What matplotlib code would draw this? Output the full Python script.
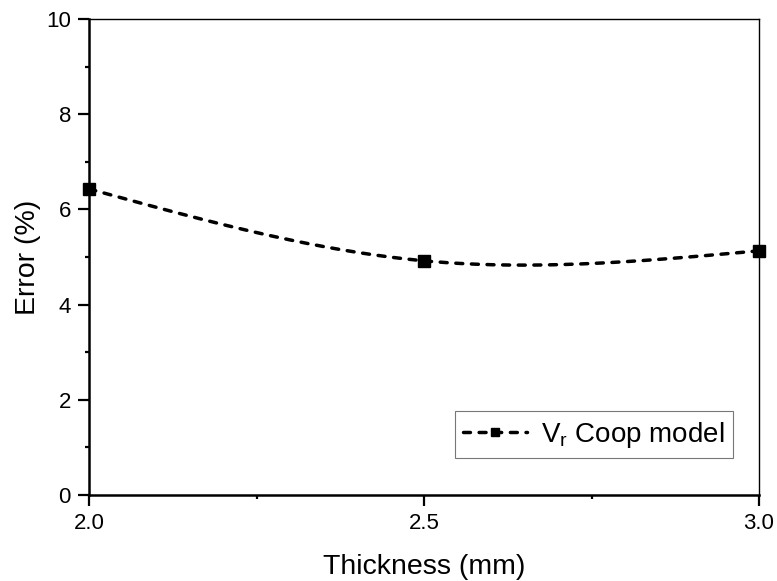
import numpy as np
import matplotlib
matplotlib.use("Agg")
import matplotlib.pyplot as plt
from matplotlib.ticker import MultipleLocator

plt.rcParams["font.family"] = ["Liberation Sans", "DejaVu Sans"]

# --------------------------------------------------
# data
# --------------------------------------------------

thickness = [2.0, 2.5, 3.0]
error = [6.43, 4.92, 5.13]
label = "V$_\\mathregular{r}$ Coop model"


# natural cubic spline through the points (smooth connecting line)
def natural_spline(x, y, n=200):
    x = np.asarray(x, float)
    y = np.asarray(y, float)
    k = len(x)
    h = np.diff(x)
    A = np.zeros((k, k))
    r = np.zeros(k)
    A[0, 0] = A[-1, -1] = 1.0
    for i in range(1, k - 1):
        A[i, i - 1] = h[i - 1]
        A[i, i] = 2 * (h[i - 1] + h[i])
        A[i, i + 1] = h[i]
        r[i] = 6 * ((y[i + 1] - y[i]) / h[i] - (y[i] - y[i - 1]) / h[i - 1])
    M = np.linalg.solve(A, r)
    xs = np.linspace(x[0], x[-1], n)
    idx = np.clip(np.searchsorted(x, xs) - 1, 0, k - 2)
    x0, x1 = x[idx], x[idx + 1]
    hh = x1 - x0
    ys = (M[idx] * (x1 - xs) ** 3 / (6 * hh) + M[idx + 1] * (xs - x0) ** 3 / (6 * hh)
          + (y[idx] / hh - M[idx] * hh / 6) * (x1 - xs)
          + (y[idx + 1] / hh - M[idx + 1] * hh / 6) * (xs - x0))
    return xs, ys


xs, ys = natural_spline(thickness, error)

# --------------------------------------------------
# plot
# --------------------------------------------------

fig = plt.figure(figsize=(7.77, 5.81), dpi=100)
ax = fig.add_axes([89 / 777, 1 - 495 / 581, 670 / 777, 476 / 581])

line_kw = dict(color="black", lw=2.5, dashes=(2, 2.5), dash_capstyle="round")
ax.plot(xs, ys, **line_kw)
ax.plot(thickness, error, "s", color="black", ms=8.5, clip_on=False)
# proxy artist for the legend (line + marker)
ax.plot([], [], marker="s", ms=8.5, label=label, **line_kw)

ax.set_xlim(2.0, 3.0)
ax.set_ylim(0, 10)
ax.xaxis.set_major_locator(MultipleLocator(0.5))
ax.xaxis.set_minor_locator(MultipleLocator(0.25))
ax.yaxis.set_major_locator(MultipleLocator(2))
ax.yaxis.set_minor_locator(MultipleLocator(1))
ax.xaxis.set_major_formatter(matplotlib.ticker.FormatStrFormatter("%.1f"))

ax.tick_params(which="both", direction="out", width=1.6, labelsize=16, top=False, right=False)
ax.tick_params(which="major", length=8, pad=5)
ax.tick_params(which="minor", length=3)

for s in ["left", "bottom"]:
    ax.spines[s].set_linewidth(1.8)
for s in ["top", "right"]:
    ax.spines[s].set_linewidth(1.0)

ax.set_xlabel("Thickness (mm)", fontsize=20.5, labelpad=14)
ax.set_ylabel("Error (%)", fontsize=20.5, labelpad=4)

leg = ax.legend(loc="lower right", bbox_to_anchor=(0.961, 0.0777), borderaxespad=0,
                fontsize=20, frameon=True, fancybox=False, handlelength=2.3,
                handletextpad=0.5, borderpad=0.3, markerscale=0.7, edgecolor="#555555")
leg.get_frame().set_linewidth(0.8)

plt.savefig("out.png", dpi=100)
